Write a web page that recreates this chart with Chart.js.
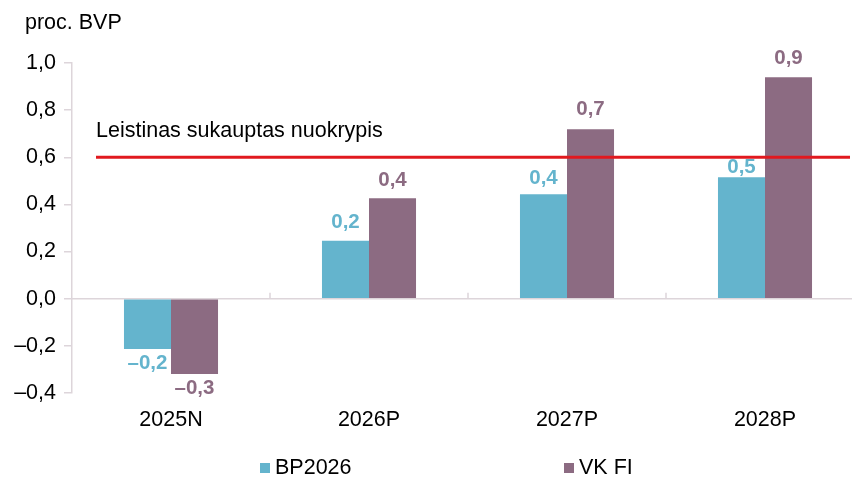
<!DOCTYPE html>
<html><head><meta charset="utf-8">
<script src="https://cdn.jsdelivr.net/npm/chart.js@4/dist/chart.umd.min.js"></script>
<style>
html,body{margin:0;padding:0;background:#fff;overflow:hidden;width:852px;height:477px;}
#wrap{position:absolute;left:0;top:0;width:866px;height:477px;}
.lg{position:absolute;font:21.5px "Liberation Sans",Arial,sans-serif;color:#000;top:454px;line-height:26px;}
.lg span{display:inline-block;width:10px;height:10px;margin-right:5px;vertical-align:1px;}
#ttl{position:absolute;left:25px;top:9px;font:21.5px "Liberation Sans",Arial,sans-serif;color:#000;line-height:26px;}
</style></head><body>
<div id="wrap"><canvas id="c" width="866" height="477"></canvas></div>
<div id="ttl">proc. BVP</div>
<div class="lg" style="left:260px"><span style="background:#64b4cd"></span>BP2026</div>
<div class="lg" style="left:564px"><span style="background:#8c6b82"></span>VK FI</div>
<script>
const categories = ["2025N","2026P","2027P","2028P"];
const bp2026 = [-0.213, 0.246, 0.443, 0.515];
const vkfi = [-0.319, 0.426, 0.719, 0.94];
const limitValue = 0.6;
const limitLabel = "Leistinas sukauptas nuokrypis";
const yTicks = [-0.4,-0.2,0,0.2,0.4,0.6,0.8,1.0];
const labelGap = [[14, 18, 16, 10], [14, 18, 20, 19]];
const FONT = '"Liberation Sans", Arial, sans-serif';
const fmt = v => (v < 0 ? "\u2013" : "") + Math.abs(v).toFixed(1).replace(".", ",");

const extras = {
  id: 'extras',
  beforeDatasetsDraw(chart) {
    const {ctx, chartArea, scales: {x, y}} = chart;
    const y0 = y.getPixelForValue(0);
    ctx.save();
    ctx.strokeStyle = '#ddd5da';
    ctx.lineWidth = 1.5;
    ctx.beginPath();
    ctx.moveTo(chartArea.left, y0); ctx.lineTo(chartArea.right, y0);
    for (let i = 1; i < categories.length; i++) {
      const xb = (x.getPixelForValue(i-1) + x.getPixelForValue(i)) / 2;
      ctx.moveTo(xb, y0); ctx.lineTo(xb, y0 - 6);
    }
    ctx.stroke();
    ctx.restore();
  },
  afterDatasetsDraw(chart) {
    const {ctx, scales: {y}} = chart;
    ctx.save();
    const yl = y.getPixelForValue(limitValue);
    ctx.strokeStyle = '#e1191f';
    ctx.lineWidth = 3;
    ctx.beginPath(); ctx.moveTo(96, yl); ctx.lineTo(850, yl); ctx.stroke();
    ctx.fillStyle = '#000';
    ctx.font = '21.5px ' + FONT;
    ctx.textAlign = 'left'; ctx.textBaseline = 'middle';
    ctx.fillText(limitLabel, 96, yl - 26);
    ctx.font = 'bold 20.5px ' + FONT;
    ctx.textAlign = 'center';
    chart.data.datasets.forEach((ds, di) => {
      const meta = chart.getDatasetMeta(di);
      meta.data.forEach((bar, i) => {
        const v = ds.data[i];
        const g = labelGap[di][i];
        ctx.fillStyle = ds.backgroundColor;
        ctx.fillText(fmt(v), bar.x, v >= 0 ? bar.y - g : bar.y + g);
      });
    });
    ctx.restore();
  }
};

new Chart(document.getElementById('c'), {
  type: 'bar',
  data: {
    labels: categories,
    datasets: [
      {label: 'BP2026', data: bp2026, backgroundColor: '#64b4cd', borderWidth: 0},
      {label: 'VK FI', data: vkfi, backgroundColor: '#8c6b82', borderWidth: 0}
    ]
  },
  options: {
    responsive: false,
    animation: false,
    categoryPercentage: 0.475,
    barPercentage: 1.0,
    layout: {padding: {top: 63, right: 2, left: 0, bottom: 0}},
    plugins: {legend: {display: false}, tooltip: {enabled: false}},
    scales: {
      x: {
        grid: {display: false},
        border: {display: false},
        ticks: {color: '#000', font: {family: FONT, size: 21.5}, padding: 6},
        afterFit(s) { s.height = 84; }
      },
      y: {
        min: -0.4, max: 1.0,
        afterBuildTicks(s) { s.ticks = yTicks.map(v => ({value: v})); },
        grid: {drawOnChartArea: false, tickLength: 8, color: '#ddd5da', lineWidth: 1.5},
        border: {display: true, color: '#ddd5da', width: 1.5},
        ticks: {color: '#000', font: {family: FONT, size: 21.5}, padding: 8, callback: v => fmt(v)},
        afterFit(s) { s.width = 72; }
      }
    }
  },
  plugins: [extras]
});
</script>
</body></html>
